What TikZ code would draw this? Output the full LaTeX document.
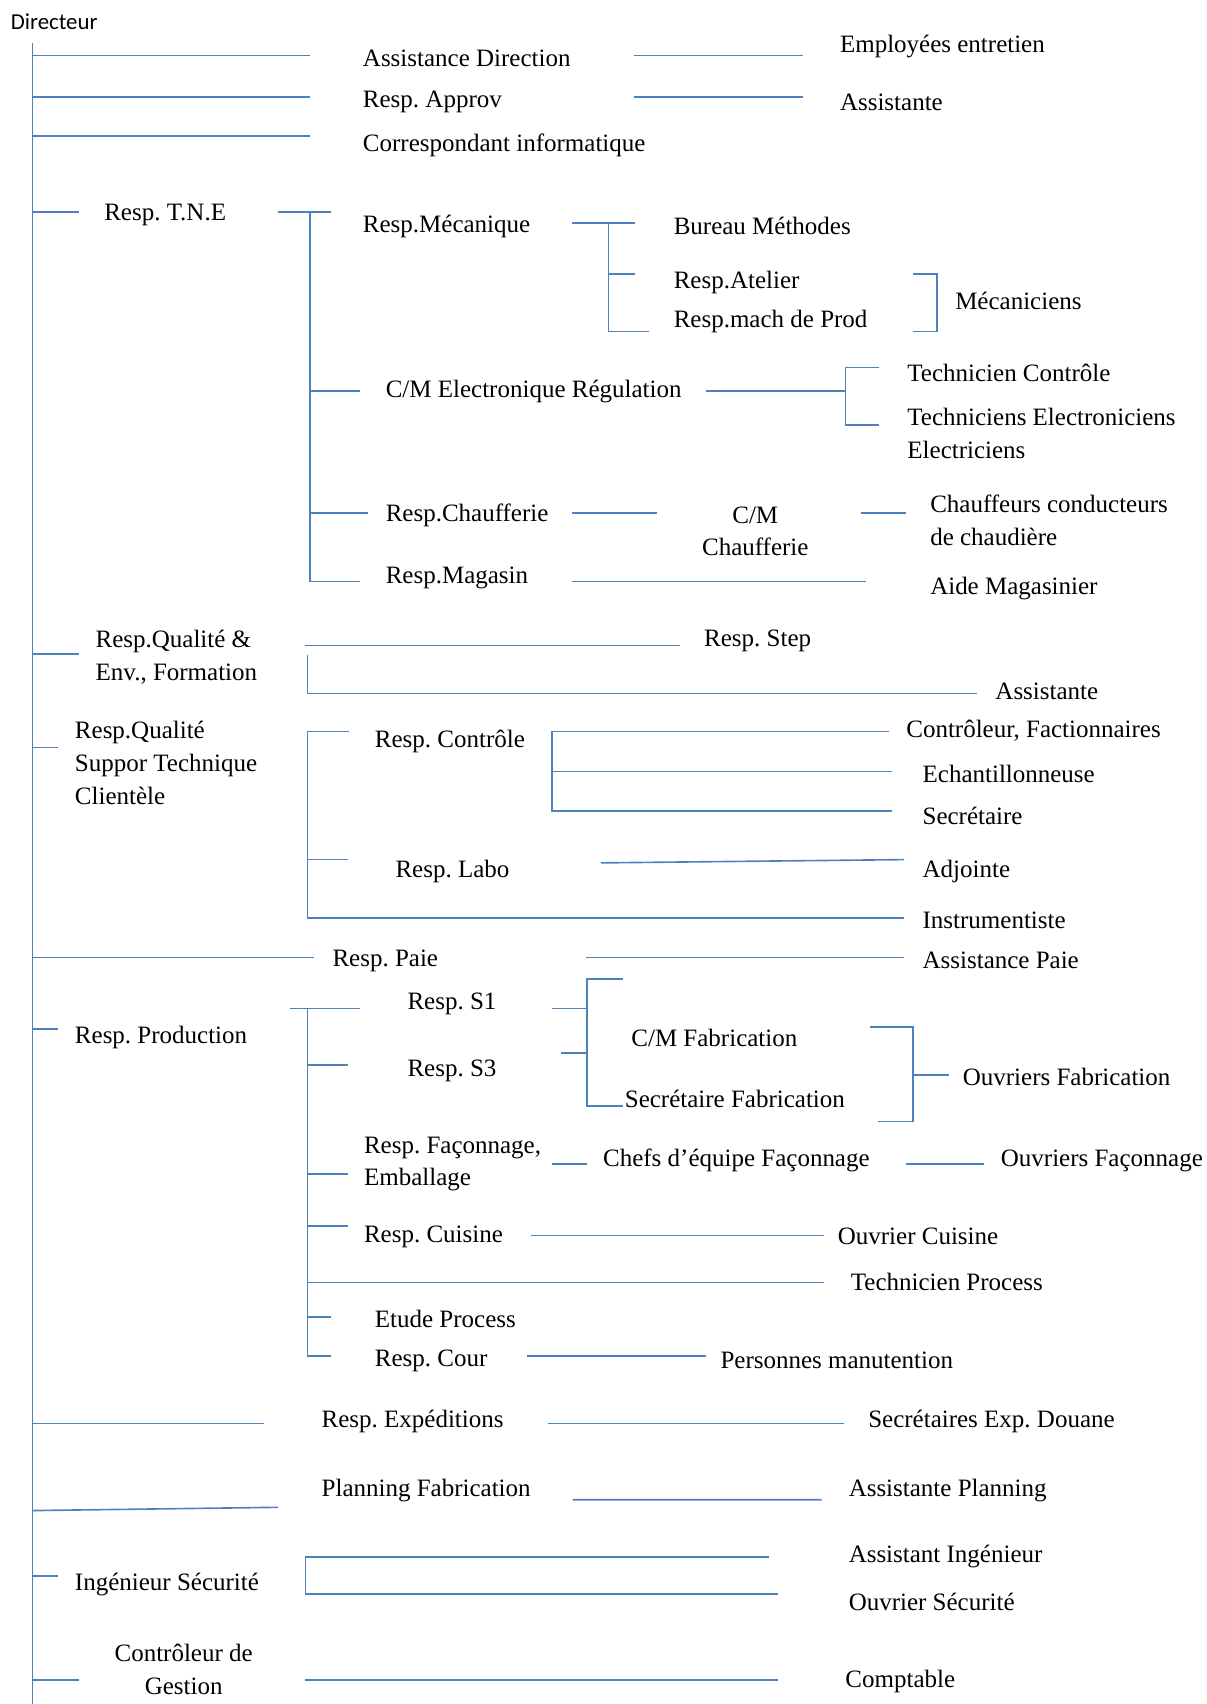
\documentclass[tikz,border=0pt]{standalone}
\usepackage{fontspec}
\setmainfont{Liberation Serif}
\newfontfamily\dirfont{Carlito}
\usepackage{tikz}
\frenchspacing

\begin{document}
\begin{tikzpicture}[x=0.5pt, y=-0.5pt,
    inner sep=0pt, outer sep=0pt,%
    link/.style={draw=orgblue, line width=0.75pt},
    post/.style={anchor=west, align=left, yshift=-1pt, font=\fontsize{11.5}{15}\selectfont},
    postc/.style={anchor=center, align=center, yshift=-1pt, font=\fontsize{11.5}{15}\selectfont},
]
    % Colors
    \definecolor{orgblue}{RGB}{79,129,189}

    \useasboundingbox (0,0) rectangle (1110,1568);

    % Director and main spine
    \node[anchor=west, font=\dirfont\fontsize{10.5}{12}\selectfont] (dir) at (10,20) {Directeur};
    \draw[link] (30,40) -- (30,1568);

    % Direct staff
    \draw[link] (30,51) -- (285,51)  (583,51) -- (739,51);
    \node[post] (assdir) at (334,52) {Assistance Direction};
    \node[post] (entret) at (773,41) {Employées entretien};
    \draw[link] (30,89) -- (285,89)  (583,89) -- (739,89);
    \node[post] (approv) at (334,92) {Resp. Approv};
    \node[post] (assapp) at (773,92) {Assistante};
    \draw[link] (30,125) -- (285,125);
    \node[post] (info) at (334,132) {Correspondant informatique};

    % T.N.E
    \draw[link] (30,195) -- (73,195);
    \node[post] (tne) at (96,196) {Resp. T.N.E};
    \draw[link] (256,195) -- (305,195)  (285,195) -- (285,535) -- (331,535);
    \node[post] (meca) at (334,206) {Resp.Mécanique};
    \draw[link] (526,205) -- (584,205)  (560,205) -- (560,305) -- (597,305)  (560,252) -- (584,252);
    \node[post] (bureau) at (620,206) {Bureau Méthodes};
    \node[post] (atelier) at (620,258) {Resp.Atelier};
    \node[post] (mach) at (620,294) {Resp.mach de Prod};
    \draw[link] (840,252) -- (862,252) -- (862,305) -- (840,305);
    \node[post] (mecan) at (879,275) {Mécaniciens};

    \draw[link] (285,360) -- (331,360);
    \node[post] (elec) at (355,358) {C/M Electronique Régulation};
    \draw[link] (650,360) -- (778,360)  (809,338) -- (778,338) -- (778,391) -- (809,391);
    \node[post] (techctl) at (835,341) {Technicien Contrôle};
    \node[post] (techel) at (835,397) {Techniciens Electroniciens\\Electriciens};

    \draw[link] (285,472) -- (339,472);
    \node[post] (chauf) at (355,472) {Resp.Chaufferie};
    \draw[link] (526,472) -- (605,472);
    \node[postc] (cmchauf) at (695,487) {C/M\\Chaufferie};
    \draw[link] (792,472) -- (834,472);
    \node[post] (chauffeurs) at (856,477) {Chauffeurs conducteurs\\de chaudière};
    \node[post] (magasin) at (355,530) {Resp.Magasin};
    \draw[link] (526,535) -- (797,535);
    \node[post] (aidemag) at (856,540) {Aide Magasinier};

    % Qualite, environnement
    \draw[link] (30,602) -- (73,602);
    \node[post] (qualenv) at (88,603) {Resp.Qualité \&\\Env., Formation};
    \draw[link] (281,594) -- (626,594)  (283,603) -- (283,638) -- (899,638);
    \node[post] (step) at (648,588) {Resp. Step};
    \node[post] (assqual) at (916,634) {Assistante};

    % Qualite, support technique
    \draw[link] (30,688) -- (53,688);
    \node[post] (qualsup) at (69,700) {Resp.Qualité\\Suppor Technique\\Clientèle};
    \draw[link] (321,673) -- (283,673) -- (283,845) -- (832,845)  (283,791) -- (320,791);
    \node[post] (ctrl) at (345,680) {Resp. Contrôle};
    \draw[link] (818,673) -- (508,673) -- (508,746) -- (821,746)  (508,710) -- (821,710);
    \node[post] (factio) at (834,670) {Contrôleur, Factionnaires};
    \node[post] (echant) at (849,710) {Echantillonneuse};
    \node[post] (secctl) at (849,749) {Secrétaire};
    \node[post] (labo) at (364,800) {Resp. Labo};
    \draw[link] (553,794) -- (832,791);
    \node[post] (adj) at (849,800) {Adjointe};
    \node[post] (instru) at (849,845) {Instrumentiste};

    % Paie
    \draw[link] (30,881) -- (289,881)  (539,881) -- (832,881);
    \node[post] (paie) at (306,882) {Resp. Paie};
    \node[post] (asspaie) at (849,882) {Assistance Paie};

    % Production
    \draw[link] (30,947) -- (53,947);
    \node[post] (prod) at (69,953) {Resp. Production};
    \draw[link] (267,928) -- (331,928)  (283,928) -- (283,1248) -- (305,1248);
    \draw[link] (283,980) -- (320,980)  (283,1080) -- (320,1080)  (283,1128) -- (320,1128)
        (283,1180) -- (758,1180)  (283,1212) -- (305,1212);
    \node[post] (s1) at (375,922) {Resp. S1};
    \node[post] (s3) at (375,983) {Resp. S3};
    \draw[link] (508,928) -- (540,928)  (516,969) -- (540,969)
        (573,901) -- (540,901) -- (540,1018) -- (573,1018);
    \node[post] (cmfab) at (581,953) {C/M Fabrication};
    \node[post] (secfab) at (575,1009) {Secrétaire Fabrication};
    \draw[link] (801,945) -- (840,945) -- (840,1032) -- (808,1032)  (840,989) -- (873,989);
    \node[post] (ouvfab) at (886,989) {Ouvriers Fabrication};

    \node[post] (faco) at (335,1069) {Resp. Façonnage,\\Emballage};
    \draw[link] (508,1071) -- (540,1071)  (834,1071) -- (905,1071);
    \node[post] (chefs) at (555,1066) {Chefs d’équipe Façonnage};
    \node[post] (ouvfaco) at (921,1066) {Ouvriers Façonnage};
    \node[post] (cuisine) at (335,1136) {Resp. Cuisine};
    \draw[link] (489,1137) -- (758,1137);
    \node[post] (ouvcuis) at (771,1136) {Ouvrier Cuisine};
    \node[post] (techproc) at (783,1178) {Technicien Process};
    \node[post] (etude) at (345,1212) {Etude Process};
    \node[post] (cour) at (345,1250) {Resp. Cour};
    \draw[link] (485,1248) -- (650,1248);
    \node[post] (manut) at (663,1250) {Personnes manutention};

    % Expeditions, planning
    \draw[link] (30,1310) -- (243,1310)  (504,1310) -- (777,1310);
    \node[post] (exped) at (296,1306) {Resp. Expéditions};
    \node[post] (douane) at (799,1306) {Secrétaires Exp. Douane};
    \draw[link] (30,1390) -- (256,1387)  (527,1380) -- (756,1380);
    \node[post] (planning) at (296,1370) {Planning Fabrication};
    \node[post] (assplan) at (781,1370) {Assistante Planning};

    % Securite, gestion
    \draw[link] (30,1450) -- (53,1450);
    \node[post] (secu) at (69,1456) {Ingénieur Sécurité};
    \draw[link] (708,1433) -- (281,1433) -- (281,1467) -- (716,1467);
    \node[post] (assing) at (781,1430) {Assistant Ingénieur};
    \node[post] (ouvsecu) at (781,1472) {Ouvrier Sécurité};
    \draw[link] (30,1546) -- (73,1546)  (281,1546) -- (716,1546);
    \node[postc] (gestion) at (169,1534) {Contrôleur de\\Gestion};
    \node[post] (compta) at (778,1545) {Comptable};
\end{tikzpicture}
\end{document}
